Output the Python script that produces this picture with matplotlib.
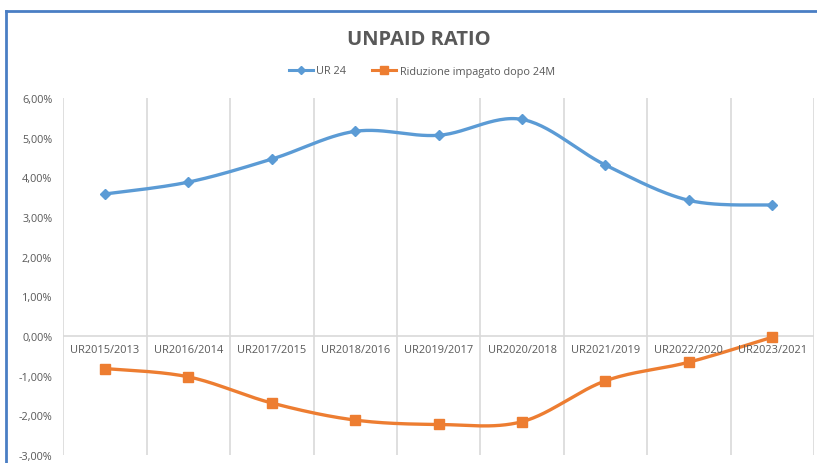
import numpy as np
import matplotlib
matplotlib.use("Agg")
import matplotlib.pyplot as plt
from matplotlib.lines import Line2D
from matplotlib.ticker import FuncFormatter

categories = ["UR2015/2013", "UR2016/2014", "UR2017/2015", "UR2018/2016", "UR2019/2017",
              "UR2020/2018", "UR2021/2019", "UR2022/2020", "UR2023/2021"]
ur24 = [3.58, 3.88, 4.46, 5.16, 5.06, 5.46, 4.31, 3.42, 3.30]
riduzione = [-0.82, -1.03, -1.69, -2.12, -2.23, -2.16, -1.13, -0.66, -0.03]
yticks = [6, 5, 4, 3, 2, 1, 0, -1, -2, -3]

BLUE = "#5B9BD5"
ORANGE = "#ED7D31"
GRAY = "#595959"
FONT = ["Open Sans", "DejaVu Sans"]
plt.rcParams['font.family'] = FONT

def smooth(y, n=30):
    y = np.asarray(y, float)
    x = np.arange(len(y), dtype=float)
    xs, ys = [], []
    for i in range(len(y) - 1):
        p0 = (x[max(i-1, 0)], y[max(i-1, 0)])
        p1 = (x[i], y[i]); p2 = (x[i+1], y[i+1])
        p3 = (x[min(i+2, len(y)-1)], y[min(i+2, len(y)-1)])
        c1 = (p1[0] + (p2[0]-p0[0])/6, p1[1] + (p2[1]-p0[1])/6)
        c2 = (p2[0] - (p3[0]-p1[0])/6, p2[1] - (p3[1]-p1[1])/6)
        t = np.linspace(0, 1, n, endpoint=(i == len(y)-2))
        a = (1-t)**3; b = 3*(1-t)**2*t; c = 3*(1-t)*t**2; d = t**3
        xs.append(a*p1[0] + b*c1[0] + c*c2[0] + d*p2[0])
        ys.append(a*p1[1] + b*c1[1] + c*c2[1] + d*p2[1])
    return np.concatenate(xs), np.concatenate(ys)

fig = plt.figure(figsize=(8.17, 4.64), dpi=100)
W, H = 817, 464
ax = fig.add_axes([63.3/W, (H-456)/H, (814-63.3)/W, (456-99)/H])

x = np.arange(len(categories))
sx, sy = smooth(ur24)
ax.plot(sx, sy, color=BLUE, lw=2.4, solid_capstyle='round', zorder=3)
ax.plot(x, ur24, ls='none', marker='D', ms=5.5, color=BLUE, zorder=4)
sx, sy = smooth(riduzione)
ax.plot(sx, sy, color=ORANGE, lw=2.4, solid_capstyle='round', zorder=3)
ax.plot(x, riduzione, ls='none', marker='s', ms=7, color=ORANGE, zorder=4)

ax.set_xlim(-0.5, len(categories) - 0.5)
ax.set_ylim(-3, 6)
ax.set_yticks(yticks)
ax.yaxis.set_major_formatter(FuncFormatter(lambda v, p: f"{v:.2f}%".replace(".", ",")))
ax.tick_params(axis='y', length=0, pad=8, labelsize=7.8, labelcolor=GRAY)
ax.set_xticks(np.arange(len(categories) + 1) - 0.5)
ax.set_xticklabels([])
ax.tick_params(axis='x', length=0)
ax.grid(axis='x', color="#D9D9D9", lw=1.2)
ax.axhline(0, color="#D9D9D9", lw=1.2, zorder=1)
for s in ax.spines.values():
    s.set_visible(False)
for i, c in enumerate(categories):
    ax.text(i, -0.2, c, ha='center', va='top', fontsize=7.9,
            color=GRAY, zorder=5)

fig.text(419/W, 1-40/H, "UNPAID RATIO", ha='center', va='center', fontsize=14.5,
         fontweight='bold', color=GRAY)

handles = [Line2D([], [], color=BLUE, lw=2.2, marker='D', ms=4.5),
           Line2D([], [], color=ORANGE, lw=2.2, marker='s', ms=6)]
fig.legend(handles, ["UR 24", "Riduzione impagato dopo 24M"], loc='center',
           bbox_to_anchor=(422/W, 1-72/H), ncol=2, frameon=False, fontsize=7.8,
           labelcolor=GRAY, handlelength=2.2, handletextpad=0.3, columnspacing=2.4)

fig.add_artist(Line2D([6/W, 1], [1-12/H, 1-12/H], transform=fig.transFigure, color="#4A7EC4", lw=2))
fig.add_artist(Line2D([6/W, 6/W], [0, 1-12/H], transform=fig.transFigure, color="#4A7EC4", lw=2))

fig.savefig("out.png", dpi=100)
